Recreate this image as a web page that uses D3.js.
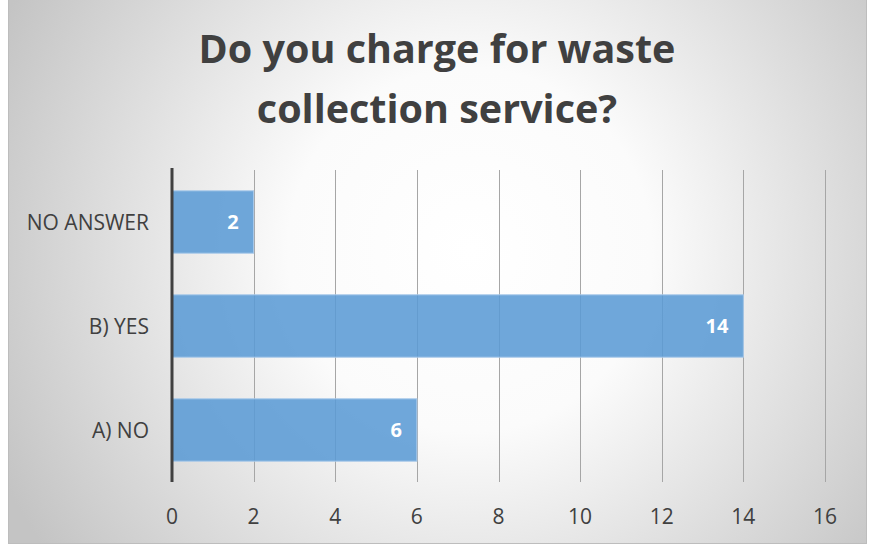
<!DOCTYPE html>
<html>
<head>
<meta charset="utf-8">
<script src="https://cdn.jsdelivr.net/npm/d3@7"></script>
<style>
  html, body { margin: 0; padding: 0; background: #ffffff; }
  svg { display: block; }
</style>
</head>
<body>
<svg id="chart" width="871" height="548"></svg>
<script>
// Survey answers
const categories = ["A) NO", "B) YES", "NO ANSWER"];
const counts = [6, 14, 2];
const xTicks = [0, 2, 4, 6, 8, 10, 12, 14, 16];
const titleLines = ["Do you charge for waste", "collection service?"];

const W = 871, H = 548;
const svg = d3.select("#chart");
const FONT = "'Open Sans', Lato, sans-serif";

// Chart-area background: soft radial gradient
const defs = svg.append("defs");
const grad = defs.append("radialGradient")
  .attr("id", "bg")
  .attr("gradientUnits", "userSpaceOnUse")
  .attr("cx", 470).attr("cy", 250).attr("r", 520);
grad.append("stop").attr("offset", "0%").attr("stop-color", "#ffffff");
grad.append("stop").attr("offset", "35%").attr("stop-color", "#fbfbfb");
grad.append("stop").attr("offset", "100%").attr("stop-color", "#c4c4c4");

svg.append("rect")
  .attr("x", 8.5).attr("y", -2).attr("width", 858).attr("height", 545.5)
  .attr("fill", "url(#bg)")
  .attr("stroke", "#bdbdbd").attr("stroke-width", 1);

// Scales
const margin = { left: 172, right: 825, top: 170, bottom: 482 };
const x = d3.scaleLinear().domain([0, 16]).range([margin.left, margin.right]);
const y = d3.scaleBand()
  .domain(categories.slice().reverse())
  .range([margin.top, margin.bottom])
  .paddingInner(0.4).paddingOuter(0.2);

// Vertical gridlines
svg.append("g")
  .selectAll("line")
  .data(xTicks.filter(t => t > 0))
  .join("line")
  .attr("x1", d => Math.round(x(d)) + 0.5).attr("x2", d => Math.round(x(d)) + 0.5)
  .attr("y1", margin.top).attr("y2", margin.bottom)
  .attr("stroke", "#a6a6a6").attr("stroke-width", 1);

// Bars
const rows = categories.map((c, i) => ({ cat: c, val: counts[i] }));
svg.append("g")
  .selectAll("rect")
  .data(rows)
  .join("rect")
  .attr("x", x(0))
  .attr("y", d => y(d.cat))
  .attr("width", d => x(d.val) - x(0))
  .attr("height", y.bandwidth())
  .attr("fill", "#5b9bd5").attr("fill-opacity", 0.88)
  .attr("stroke", "#a9c9ea").attr("stroke-width", 1);

// Value labels inside bar ends
svg.append("g")
  .selectAll("text")
  .data(rows)
  .join("text")
  .attr("x", d => x(d.val) - 15)
  .attr("y", d => y(d.cat) + y.bandwidth() / 2)
  .attr("dy", "0.36em")
  .attr("text-anchor", "end")
  .attr("fill", "#ffffff")
  .attr("font-family", FONT).attr("font-weight", 700).attr("font-size", 20)
  .text(d => d.val);

// Category axis line
svg.append("line")
  .attr("x1", x(0)).attr("x2", x(0))
  .attr("y1", margin.top - 2).attr("y2", margin.bottom)
  .attr("stroke", "#404040").attr("stroke-width", 3);

// Category labels
svg.append("g")
  .selectAll("text")
  .data(categories)
  .join("text")
  .attr("x", 149)
  .attr("y", d => y(d) + y.bandwidth() / 2)
  .attr("dy", "0.36em")
  .attr("text-anchor", "end")
  .attr("fill", "#404040")
  .attr("font-family", FONT).attr("font-size", 21)
  .text(d => d);

// Value axis tick labels
svg.append("g")
  .selectAll("text")
  .data(xTicks)
  .join("text")
  .attr("x", d => x(d))
  .attr("y", 524)
  .attr("text-anchor", "middle")
  .attr("fill", "#404040")
  .attr("font-family", FONT).attr("font-size", 21)
  .text(d => d);

// Title
svg.append("g")
  .selectAll("text")
  .data(titleLines)
  .join("text")
  .attr("x", 437)
  .attr("y", (d, i) => 63 + i * 60)
  .attr("text-anchor", "middle")
  .attr("fill", "#404040")
  .attr("font-family", FONT).attr("font-weight", 700).attr("font-size", 39.5)
  .text(d => d);
</script>
</body>
</html>
